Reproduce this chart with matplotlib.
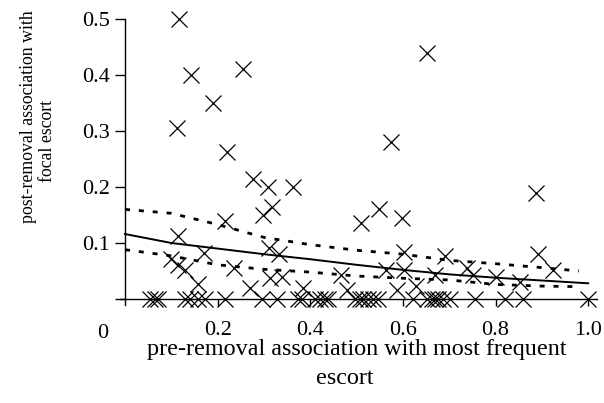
import matplotlib
matplotlib.use("Agg")
import matplotlib.pyplot as plt

plt.rcParams['font.family'] = ['Liberation Serif', 'DejaVu Serif']

# escorts with some post-removal association
pre = [0.117, 0.143, 0.255, 0.190, 0.112, 0.220, 0.652, 0.574, 0.888,
       0.276, 0.309, 0.363, 0.317, 0.298, 0.216, 0.114, 0.170, 0.311, 0.333, 0.099,
       0.114, 0.130, 0.158, 0.236, 0.270, 0.313, 0.339, 0.385, 0.467, 0.480,
       0.510, 0.549, 0.598, 0.602, 0.690, 0.891, 0.564, 0.602, 0.670, 0.739,
       0.751, 0.800, 0.852, 0.924, 0.587, 0.628]
post = [0.500, 0.400, 0.410, 0.350, 0.305, 0.262, 0.440, 0.280, 0.190,
        0.214, 0.200, 0.200, 0.165, 0.150, 0.140, 0.112, 0.083, 0.091, 0.080, 0.072,
        0.061, 0.052, 0.026, 0.055, 0.020, 0.038, 0.040, 0.020, 0.042, 0.016,
        0.136, 0.160, 0.145, 0.084, 0.077, 0.081, 0.052, 0.052, 0.042, 0.055,
        0.043, 0.040, 0.030, 0.052, 0.016, 0.024]

# escorts never seen again with the focal animal
pre_zero = [0.054, 0.065, 0.071, 0.130, 0.140, 0.158, 0.173, 0.216, 0.296, 0.328,
            0.374, 0.382, 0.410, 0.421, 0.432, 0.438, 0.497, 0.508, 0.514, 0.525,
            0.536, 0.546, 0.622, 0.652, 0.663, 0.670, 0.676, 0.687, 0.702, 0.756,
            0.821, 0.860, 1.000]
post_zero = [0.0] * len(pre_zero)

# fitted curve and confidence band
fit_x = [0.0, 0.1, 0.2, 0.3, 0.4, 0.5, 0.6, 0.7, 0.8, 0.9, 1.0]
fit_y = [0.116, 0.100, 0.090, 0.080, 0.071, 0.061, 0.052, 0.044, 0.038, 0.033, 0.028]
band_x = [0.0, 0.1, 0.2, 0.3, 0.4, 0.5, 0.6, 0.7, 0.8, 0.9, 0.98]
upper = [0.160, 0.153, 0.133, 0.110, 0.097, 0.087, 0.080, 0.069, 0.063, 0.056, 0.050]
lower = [0.088, 0.077, 0.061, 0.053, 0.048, 0.041, 0.037, 0.034, 0.026, 0.023, 0.022]

xticks = [0.2, 0.4, 0.6, 0.8, 1.0]
xticklabels = ['0.2', '0.4', '0.6', '0.8', '1.0']
yticks = [0.0, 0.1, 0.2, 0.3, 0.4, 0.5]
yticklabels = ['', '0.1', '0.2', '0.3', '0.4', '0.5']

fig = plt.figure(figsize=(6.04, 4.03), dpi=100)
ax = fig.add_axes([0.1987, 0.2442, 0.7897, 0.7087])

mk = dict(marker='x', linestyle='none', color='black', markersize=11.5,
          markeredgewidth=0.9, clip_on=False, zorder=3)
ax.plot(pre, post, **mk)
ax.plot(pre_zero, post_zero, **mk)

ax.plot(fit_x, fit_y, color='black', lw=1.4)
ax.plot(band_x, upper, color='black', lw=2, linestyle=(0, (1.8, 3.2)))
ax.plot(band_x, lower, color='black', lw=2, linestyle=(0, (1.8, 3.2)))

ax.set_xlim(-0.0108, 1.019)
ax.set_ylim(-0.01, 0.5)

for s in ['top', 'right']:
    ax.spines[s].set_visible(False)
ax.spines['left'].set_position(('data', 0))
ax.spines['left'].set_bounds(-0.01, 0.5)
ax.spines['bottom'].set_position(('data', 0))
ax.spines['left'].set_linewidth(1.0)
ax.spines['bottom'].set_linewidth(1.0)

ax.set_xticks(xticks)
ax.set_xticklabels(xticklabels)
ax.set_yticks(yticks)
ax.set_yticklabels(yticklabels)
ax.tick_params(axis='x', direction='out', length=5, width=1, pad=11, labelsize=16)
ax.tick_params(axis='y', direction='out', length=7, width=1, pad=4, labelsize=16)

# the "0" sits left of the axis in the original
ax.text(-0.048, -0.062, '0', fontsize=16, ha='center', va='center')

fig.text(357 / 604, 1 - 350 / 403, 'pre-removal association with most frequent',
         fontsize=17.4, ha='center', va='center')
fig.text(345 / 604, 1 - 378 / 403, 'escort', fontsize=17.4, ha='center', va='center')
fig.text(29 / 604, 1 - 117 / 403, 'post-removal association with',
         fontsize=12.8, rotation=90, ha='center', va='center')
fig.text(48 / 604, 1 - 141 / 403, 'focal escort',
         fontsize=12.8, rotation=90, ha='center', va='center')

fig.savefig('out.png', dpi=100)
